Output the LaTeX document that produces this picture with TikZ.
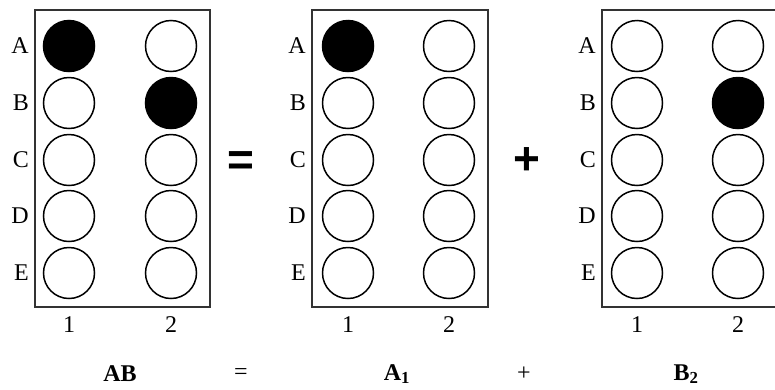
\documentclass[tikz,border=0pt]{standalone}
\usepackage{fontspec}
\setmainfont{Liberation Serif}
\newfontfamily\signfont{Liberation Sans}

\begin{document}
\begin{tikzpicture}[x=1pt, y=-1pt,
  lab/.style={font=\fontsize{24}{24}\selectfont, inner sep=0pt},
  boxname/.style={font=\fontsize{24}{24}\selectfont\bfseries, inner sep=0pt},
  hole/.style={circle, draw, line width=1.5pt, minimum size=51pt, inner sep=0pt},
  dot/.style={hole, fill=black},
  frame/.style={draw=black!80, line width=1.8pt},
  sign/.style={font=\signfont\bfseries\fontsize{46}{46}\selectfont, inner sep=0pt}]
\useasboundingbox (0,0) rectangle (775,389);
\clip (0,0) rectangle (775,389);
% product AB
\draw[frame] (35,10) rectangle (210,307);
\foreach \r/\y/\ka/\kb in {A/46/dot/hole, B/103/hole/dot, C/160/hole/hole, D/216/hole/hole, E/273/hole/hole} {
  \node[lab, anchor=east] (ab\r) at (29,\y) {\r};
  \node[\ka] (ab\r1) at (69,\y) {};
  \node[\kb] (ab\r2) at (171,\y) {};
}
\node[lab] (ab1) at (69,325) {1};
\node[lab] (ab2) at (171,325) {2};
\node[sign] (eq) at (241,164) {=};
% A1
\draw[frame] (312,10) rectangle (488,307);
\foreach \r/\y/\ka/\kb in {A/46/dot/hole, B/103/hole/hole, C/160/hole/hole, D/216/hole/hole, E/273/hole/hole} {
  \node[lab, anchor=east] (a\r) at (306,\y) {\r};
  \node[\ka] (a\r1) at (348,\y) {};
  \node[\kb] (a\r2) at (449,\y) {};
}
\node[lab] (a1) at (348,325) {1};
\node[lab] (a2) at (449,325) {2};
\node[sign] (plus) at (527,161) {+};
% B2
\draw[frame] (602,10) rectangle (778,307);
\foreach \r/\y/\ka/\kb in {A/46/hole/hole, B/103/hole/dot, C/160/hole/hole, D/216/hole/hole, E/273/hole/hole} {
  \node[lab, anchor=east] (b\r) at (596,\y) {\r};
  \node[\ka] (b\r1) at (637,\y) {};
  \node[\kb] (b\r2) at (738,\y) {};
}
\node[lab] (b1) at (637,325) {1};
\node[lab] (b2) at (738,325) {2};
% names under the boxes
\node[boxname] (nab) at (120,374) {AB};
\node[lab] (neq) at (241,374) {=};
\node[boxname] (na) at (397,374) {A$_{\mathbf{1}}$};
\node[lab] (nplus) at (524,374) {+};
\node[boxname] (nb) at (686,374) {B$_{\mathbf{2}}$};
\end{tikzpicture}
\end{document}
